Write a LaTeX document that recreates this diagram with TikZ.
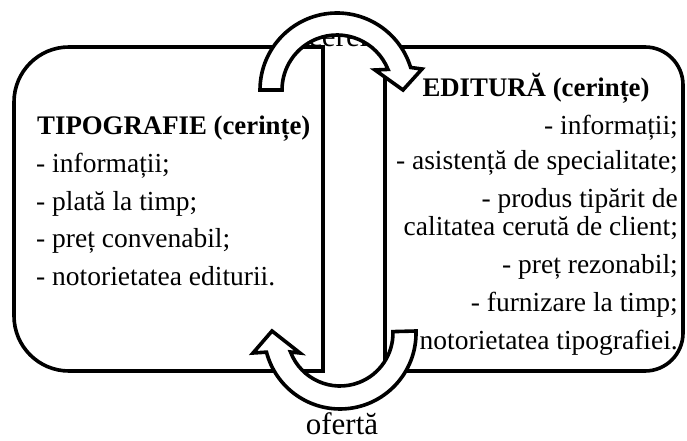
\documentclass[tikz,border=0pt]{standalone}
\usepackage{fontspec}
\setmainfont{Liberation Serif}
\begin{document}
\begin{tikzpicture}[x=1pt,y=1pt,
  boxline/.style={line width=3.6pt},
  blockarrow/.style={line width=3.6pt, fill=white},
  txt/.style={font=\fontsize{27.5}{30}\selectfont, inner sep=0pt},
  hd/.style={font=\fontsize{26.8}{30}\selectfont\bfseries, inner sep=0pt},
  lbl/.style={font=\fontsize{31}{34}\selectfont, inner sep=0pt}]
\useasboundingbox (0,0) rectangle (687,441);
% left box (TIPOGRAFIE)
\draw[boxline] (323,394) -- (323,70) -- (69,70)
  arc[start angle=270,end angle=180,radius=55] -- (14,339)
  arc[start angle=180,end angle=90,radius=55] -- cycle;
% right box (EDITURA)
\draw[boxline] (385,371) -- (385,70) -- (645,70)
  arc[start angle=-90,end angle=0,radius=38] -- (683,356)
  arc[start angle=0,end angle=90,radius=38] -- (385,394);
% left texts
\node[hd,anchor=base west] (t0) at (37,306) {TIPOGRAFIE (cerințe)};
\node[txt,anchor=base west] (t1) at (36,268) {- informații;};
\node[txt,anchor=base west] (t2) at (36,230) {- plată la timp;};
\node[txt,anchor=base west] (t3) at (36,193) {- preț convenabil;};
\node[txt,anchor=base west] (t4) at (36,155) {- notorietatea editurii.};
% right texts
\node[hd,anchor=base] (e0) at (536,344) {EDITURĂ (cerințe)};
\node[txt,anchor=base east] (e1) at (678,306) {- informații;};
\node[txt,anchor=base east] (e2) at (678,271) {- asistență de specialitate;};
\node[txt,anchor=base east] (e3) at (678,233) {- produs tipărit de};
\node[txt,anchor=base east] (e4) at (678,205) {calitatea cerută de client;};
\node[txt,anchor=base east] (e5) at (678,167) {- preț rezonabil;};
\node[txt,anchor=base east] (e6) at (678,129) {- furnizare la timp;};
\node[txt,anchor=base east] (e7) at (678,91) {notorietatea tipografiei.};
% labels
\node[lbl,anchor=base] (cer) at (346,394) {cerere};
\node[lbl,anchor=base] (ofe) at (342,6) {ofertă};
% top curved arrow
\draw[blockarrow] (260,351) arc[start angle=180,end angle=17,radius=77]
  -- (422,372) -- (403,351) -- (375,371) -- (388,371.6)
  arc[start angle=22,end angle=180,radius=55] -- cycle;
% bottom curved arrow
\draw[blockarrow] (416,110) arc[start angle=1.5,end angle=-165.4,radius=76]
  -- (253,88) -- (272,110) -- (300,88) -- (290.5,89)
  arc[start angle=-159,end angle=1.5,radius=53] -- cycle;
\end{tikzpicture}
\end{document}
